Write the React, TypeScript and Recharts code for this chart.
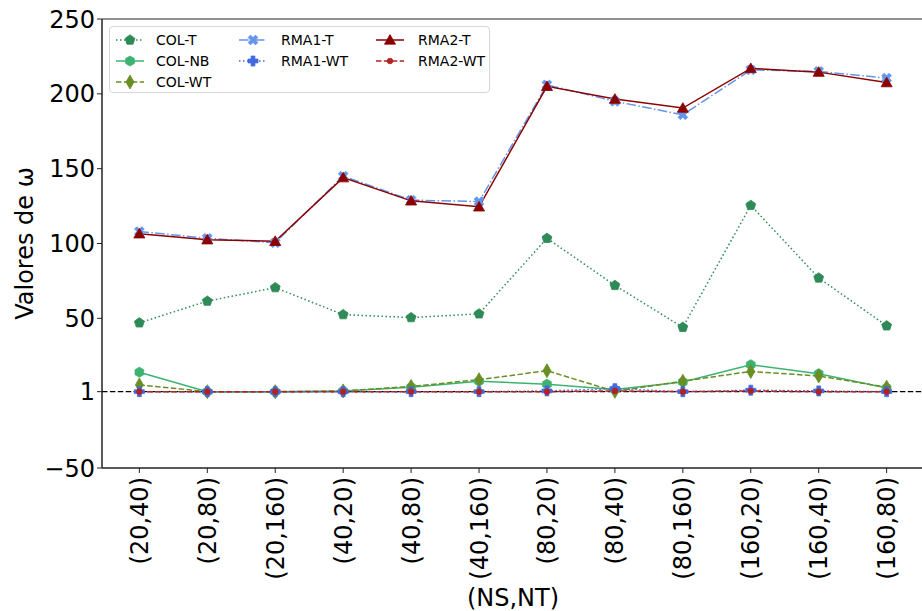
import React from 'react';
import { LineChart, Line, XAxis, YAxis, ReferenceLine, ReferenceArea } from 'recharts';

const categories = ['(20,40)', '(20,80)', '(20,160)', '(40,20)', '(40,80)', '(40,160)', '(80,20)', '(80,40)', '(80,160)', '(160,20)', '(160,40)', '(160,80)'];

const colT = [47, 61.5, 70.5, 52.5, 50.5, 53, 103.5, 72, 44, 125.5, 77, 45];
const colNB = [14, 1, 1, 1.5, 4, 8, 6, 2.5, 7.5, 19, 13, 3.5];
const colWT = [5.5, 1, 1, 1.5, 4.5, 9, 15, 1.2, 8, 14.5, 11.5, 4];
const rma1T = [108, 103.5, 100.5, 145, 129, 128, 206, 195, 186, 216, 215, 210.5];
const rma1WT = [1, 1, 1, 1, 1, 1, 1.5, 3, 1, 2, 1.5, 1];
const rma2T = [106.5, 102.5, 101.5, 144, 128.5, 124.5, 205, 196.5, 190.5, 217, 214.5, 207.5];
const rma2WT = [1, 1, 1, 1, 1, 1, 1, 1.5, 1, 1.5, 1, 1];

const yTicks = [-50, 1, 50, 100, 150, 200, 250];

const data = categories.map((c, i) => ({
  idx: i,
  name: c,
  colT: colT[i],
  colNB: colNB[i],
  colWT: colWT[i],
  rma1T: rma1T[i],
  rma1WT: rma1WT[i],
  rma2T: rma2T[i],
  rma2WT: rma2WT[i],
}));

const FONT = '"DejaVu Sans", sans-serif';

type Shape = 'pentagon' | 'hexagon' | 'diamond' | 'xfill' | 'plus' | 'triangle' | 'point';

const polygon = (n: number, r: number, cx: number, cy: number) => {
  const pts: string[] = [];
  for (let k = 0; k < n; k++) {
    const a = -Math.PI / 2 + (k * 2 * Math.PI) / n;
    pts.push(`${cx + r * Math.cos(a)},${cy + r * Math.sin(a)}`);
  }
  return 'M' + pts.join('L') + 'Z';
};

const crossPts = (t: number, l: number): [number, number][] => [
  [-t, -l], [t, -l], [t, -t], [l, -t], [l, t], [t, t],
  [t, l], [-t, l], [-t, t], [-l, t], [-l, -t], [-t, -t],
];

const shapePath = (shape: Shape, cx: number, cy: number) => {
  switch (shape) {
    case 'pentagon':
      return polygon(5, 5.2, cx, cy);
    case 'hexagon':
      return polygon(6, 5, cx, cy);
    case 'triangle':
      return polygon(3, 6.4, cx, cy + 1);
    case 'diamond':
      return `M${cx},${cy - 7}L${cx + 4},${cy}L${cx},${cy + 7}L${cx - 4},${cy}Z`;
    case 'plus': {
      const p = crossPts(1.9, 5);
      return 'M' + p.map(([x, y]) => `${cx + x},${cy + y}`).join('L') + 'Z';
    }
    case 'xfill': {
      const p = crossPts(1.7, 5.2);
      const c = Math.SQRT1_2;
      return 'M' + p.map(([x, y]) => `${cx + (x - y) * c},${cy + (x + y) * c}`).join('L') + 'Z';
    }
    case 'point':
    default:
      return `M${cx - 2.8},${cy}a2.8,2.8 0 1,0 5.6,0a2.8,2.8 0 1,0 -5.6,0Z`;
  }
};

const makeDot = (shape: Shape, color: string) => (props: any) => {
  const { cx, cy, index } = props;
  if (cx == null || cy == null) return <g key={index} />;
  return <path key={index} d={shapePath(shape, cx, cy)} fill={color} stroke={color} strokeWidth={0.8} />;
};

interface SeriesDef {
  key: string;
  label: string;
  color: string;
  dash?: string;
  shape: Shape;
}

const series: SeriesDef[] = [
  { key: 'colT', label: 'COL-T', color: '#2E8B57', dash: '1.5 2.5', shape: 'pentagon' },
  { key: 'colNB', label: 'COL-NB', color: '#3CB371', shape: 'hexagon' },
  { key: 'colWT', label: 'COL-WT', color: '#6B8E23', dash: '5.5 2.4', shape: 'diamond' },
  { key: 'rma1T', label: 'RMA1-T', color: '#6495ED', dash: '9.6 2.4 1.5 2.4', shape: 'xfill' },
  { key: 'rma1WT', label: 'RMA1-WT', color: '#4169E1', dash: '1.5 2.5', shape: 'plus' },
  { key: 'rma2T', label: 'RMA2-T', color: '#8B0000', shape: 'triangle' },
  { key: 'rma2WT', label: 'RMA2-WT', color: '#B22222', dash: '5.5 2.4', shape: 'point' },
];

const XTick = (props: any) => {
  const { x, y, payload } = props;
  return (
    <text
      transform={`translate(${x + 8.5},${y + 2}) rotate(-90)`}
      textAnchor="end"
      fontSize={24}
      fontFamily={FONT}
      fill="#000"
    >
      {categories[payload.value]}
    </text>
  );
};

const legendPos = [
  { left: 6, text: 46, top: 13 },
  { left: 6, text: 46, top: 34 },
  { left: 6, text: 46, top: 55 },
  { left: 129, text: 171, top: 13 },
  { left: 129, text: 171, top: 34 },
  { left: 266, text: 308, top: 13 },
  { left: 266, text: 308, top: 34 },
];

const LegendBox = () => (
  <div
    style={{
      position: 'absolute',
      left: 109,
      top: 26,
      width: 381,
      height: 67,
      border: '1px solid #d6d6d6',
      borderRadius: 4,
      background: 'rgba(255,255,255,0.85)',
      fontFamily: FONT,
      fontSize: 14,
      boxSizing: 'border-box',
    }}
  >
    {series.map((s, i) => {
      const p = legendPos[i];
      return (
        <React.Fragment key={s.key}>
          <svg style={{ position: 'absolute', left: p.left - 1, top: p.top - 9 }} width={30} height={18}>
            <line x1={1} y1={9} x2={29} y2={9} stroke={s.color} strokeWidth={1.5} strokeDasharray={s.dash} />
            <path d={shapePath(s.shape, 15, 9)} fill={s.color} stroke={s.color} strokeWidth={0.8} />
          </svg>
          <span style={{ position: 'absolute', left: p.text, top: p.top - 9, lineHeight: '18px', color: '#000', whiteSpace: 'nowrap' }}>
            {s.label}
          </span>
        </React.Fragment>
      );
    })}
  </div>
);

export default function App() {
  return (
    <div style={{ position: 'fixed', left: 0, top: 0, width: 922, height: 611, overflow: 'hidden', background: '#fff' }}>
      <LineChart width={940} height={611} data={data} margin={{ top: 19, right: 16, left: 2, bottom: 0 }}>
        <ReferenceArea x1={-0.55} x2={11.55} y1={-50} y2={250} fill="none" stroke="#222" strokeWidth={1} ifOverflow="visible" />
        <XAxis
          dataKey="idx"
          type="number"
          domain={[-0.55, 11.55]}
          ticks={categories.map((_, i) => i)}
          interval={0}
          height={143}
          tickSize={5}
          tick={<XTick />}
          axisLine={{ stroke: '#222' }}
          tickLine={{ stroke: '#222' }}
          allowDataOverflow
          label={{
            content: () => (
              <text x={513} y={606} textAnchor="middle" fontSize={24} fontFamily={FONT} fill="#000">
                (NS,NT)
              </text>
            ),
          }}
        />
        <YAxis
          type="number"
          domain={[-50, 250]}
          ticks={yTicks}
          interval={0}
          width={100}
          tickSize={5}
          tickFormatter={(v: number) => String(v).replace('-', '\u2212')}
          tick={{ fontSize: 24, fontFamily: FONT, fill: '#000' }}
          axisLine={{ stroke: '#222' }}
          tickLine={{ stroke: '#222' }}
          allowDataOverflow
          label={{
            content: () => (
              <text transform="translate(33,243.5) rotate(-90)" textAnchor="middle" fontSize={24} fontFamily={FONT} fill="#000">
                Valores de ω
              </text>
            ),
          }}
        />
        <ReferenceLine y={1} stroke="#000" strokeWidth={1.2} strokeDasharray="5.5 2.4" ifOverflow="visible" />
        {series.map(s => (
          <Line
            key={s.key}
            type="linear"
            dataKey={s.key}
            stroke={s.color}
            strokeWidth={1.5}
            strokeDasharray={s.dash}
            dot={makeDot(s.shape, s.color)}
            activeDot={false}
            isAnimationActive={false}
          />
        ))}
      </LineChart>
      <LegendBox />
    </div>
  );
}
